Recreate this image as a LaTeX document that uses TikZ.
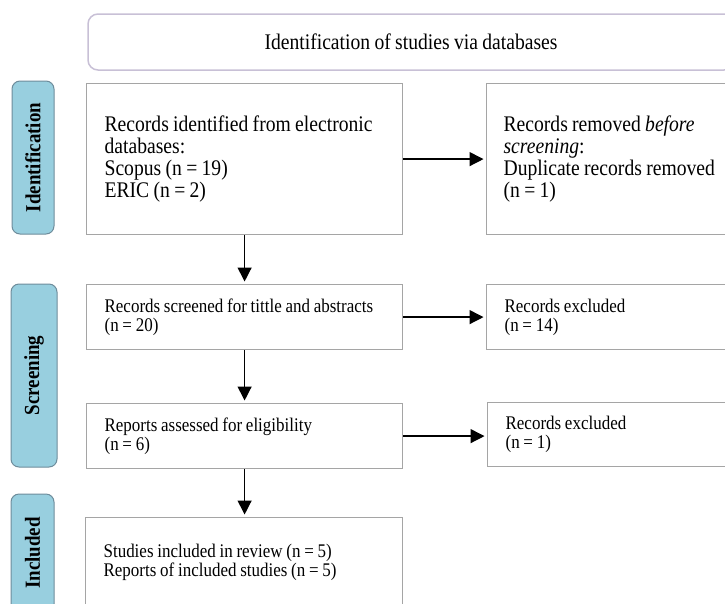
\documentclass[tikz,border=0pt]{standalone}
\usepackage{fontspec}
\setmainfont[FakeStretch=0.88, WordSpace=0.88]{Liberation Serif}
\usepackage{tikz}
\usetikzlibrary{arrows.meta,positioning,calc}
\definecolor{stageblue}{RGB}{152,207,223}
\definecolor{stageedge}{RGB}{110,140,155}
\definecolor{boxgray}{RGB}{165,165,165}
\definecolor{titleedge}{RGB}{200,192,214}
\tikzset{
  stage/.style={rectangle, rounded corners=8pt, draw=stageedge, line width=1pt, fill=stageblue, rotate=90, font=\fontsize{21.5}{24}\selectfont\bfseries},
  bigbox/.style={rectangle, draw=boxgray, line width=1.2pt, align=flush left, anchor=north west, inner xsep=18pt, font=\fontsize{22.3}{22}\selectfont},
  smallbox/.style={rectangle, draw=boxgray, line width=1.2pt, align=flush left, anchor=north west, inner xsep=18pt, font=\fontsize{19.3}{19}\selectfont},
  arrow/.style={-{Triangle[length=14pt, width=14pt]}, line width=1.3pt, shorten >=2.5pt}
}
\begin{document}
\begin{tikzpicture}[x=1pt, y=-1pt]
\useasboundingbox (0,0) rectangle (725,603);
\clip (0,0) rectangle (725,603);
% header
\node[rectangle, rounded corners=10pt, draw=titleedge, line width=1.5pt, minimum width=646pt, minimum height=56pt, font=\fontsize{22.3}{24}\selectfont] (title) at (411,42) {Identification of studies via databases};
% stages
\node[stage, minimum width=153pt, minimum height=42pt] (idlab) at (33,157.5) {Identification};
\node[stage, minimum width=183pt, minimum height=46pt] (scrlab) at (34,375.5) {Screening};
\node[stage, minimum width=118pt, minimum height=43pt] (inclab) at (32.5,553) {Included};
% boxes
\node[bigbox, text width=280pt, minimum height=151pt] (recs) at (86,83) {Records identified from electronic\\databases:\\Scopus (n = 19)\\ERIC (n = 2)};
\node[bigbox, inner xsep=17pt, text width=300pt, minimum height=151pt] (removed) at (486,83) {Records removed \emph{before}\\\emph{screening}:\\Duplicate records removed\\(n = 1)};
\node[smallbox, text width=280pt, minimum height=65pt] (screened) at (86,284) {Records screened for tittle and abstracts\\(n = 20)};
\node[smallbox, text width=300pt, minimum height=65pt] (excl1) at (486,284) {Records excluded\\(n = 14)};
\node[smallbox, text width=280pt, minimum height=65pt] (assessed) at (86,403) {Reports assessed for eligibility\\(n = 6)};
\node[smallbox, text width=300pt, minimum height=64pt] (excl2) at (487,402) {Records excluded\\(n = 1)};
\node[smallbox, text width=281pt, minimum height=90pt] (incl) at (85,517) {Studies included in review (n = 5)\\Reports of included studies (n = 5)};
% arrows
\draw[arrow] (recs) -- (removed);
\draw[arrow] (recs) -- (screened);
\draw[arrow] (screened) -- (excl1);
\draw[arrow] (screened) -- (assessed);
\draw[arrow] (assessed.east) -- (assessed.east -| excl2.west);
\draw[arrow] (assessed) -- (incl.north -| assessed);
\end{tikzpicture}
\end{document}
